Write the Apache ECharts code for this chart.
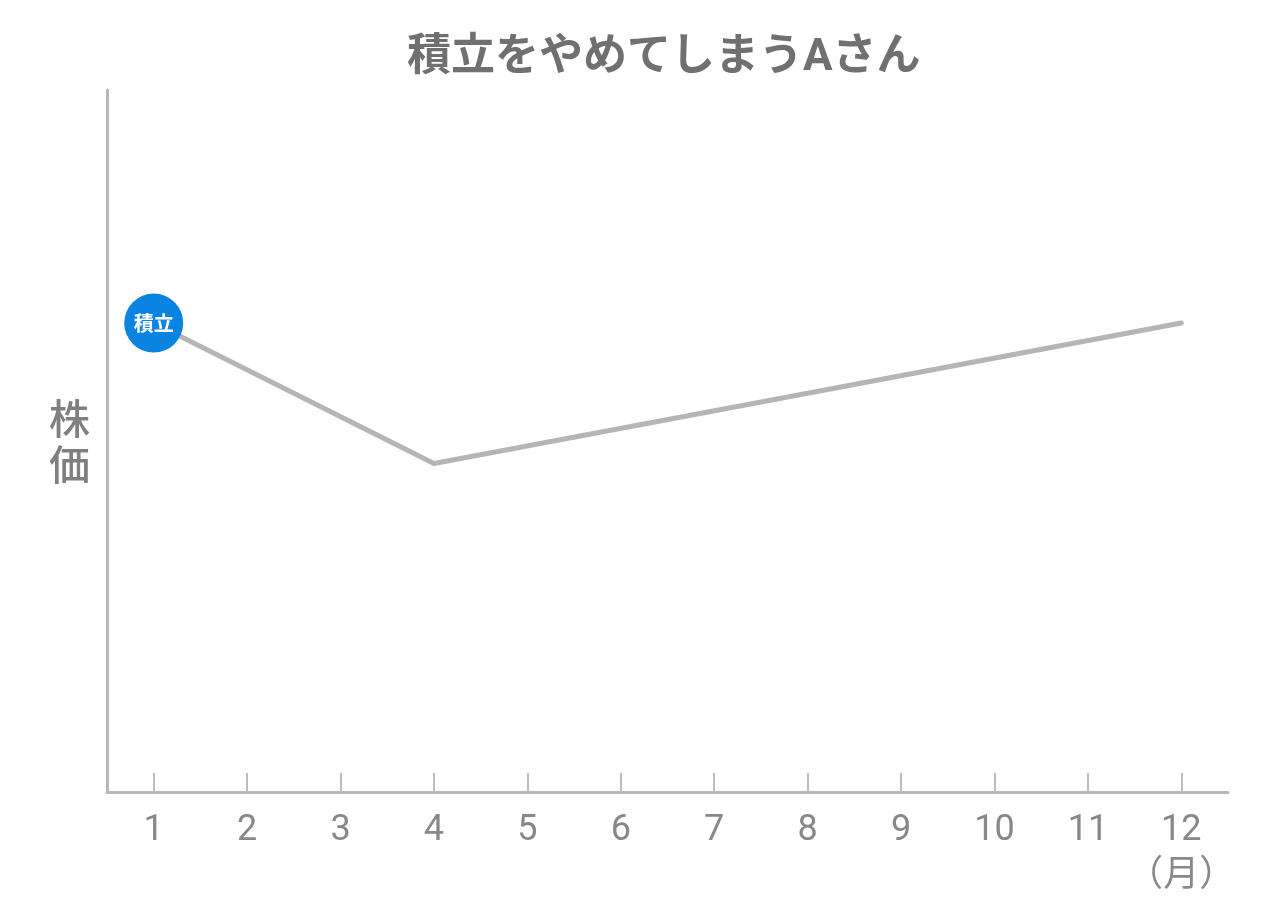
<!DOCTYPE html>
<html lang="ja">
<head>
    <meta charset="UTF-8">
    <title>積立をやめてしまうAさん</title>
    <style>
        html, body { margin: 0; padding: 0; background: #fff; }
        #main { width: 1280px; height: 912px; }
    </style>
</head>
<body>
<script src="https://cdn.jsdelivr.net/npm/echarts@6/dist/echarts.min.js"></script>
<div id="main"></div>
<script type="text/javascript">

// months on the x axis
var months = ['1', '2', '3', '4', '5', '6', '7', '8', '9', '10', '11', '12'];
// stock price (no scale shown), only the turning points are known
var price = [66.8, null, null, 46.8, null, null, null, null, null, null, null, 66.8];
var markerText = '積立';

var myChart = echarts.init(document.getElementById('main'));

var seriesData = price.map(function (v, i) {
    if (i === 0) {
        return {
            value: v,
            symbol: 'circle',
            symbolSize: 59,
            itemStyle: { color: '#0a84e2' },
            label: {
                show: true,
                position: 'inside',
                formatter: markerText,
                color: '#fff',
                fontSize: 20,
                fontWeight: 'bold',
                fontFamily: '"Noto Sans CJK JP"'
            }
        };
    }
    return v;
});

myChart.setOption({
    animation: false,
    title: {
        text: '積立をやめてしまうAさん',
        left: 402,
        top: 32,
        textStyle: {
            color: '#707070',
            fontSize: 44,
            fontWeight: 'bold',
            fontFamily: 'Roboto, "Noto Sans CJK JP"'
        }
    },
    grid: { left: 107, right: 52, top: 90, bottom: 120 },
    xAxis: {
        type: 'category',
        data: months,
        boundaryGap: true,
        axisLine: { show: true, lineStyle: { color: '#b8b8b8', width: 3 } },
        axisTick: {
            show: true,
            interval: 0,
            alignWithLabel: true,
            inside: true,
            length: 19,
            lineStyle: { color: '#bdbdbd', width: 2 }
        },
        axisLabel: {
            interval: 0,
            margin: 16,
            fontSize: 36,
            lineHeight: 46,
            color: '#888',
            fontFamily: 'Roboto, "Noto Sans CJK JP"',
            formatter: function (v) {
                return v === '12' ? '12\n（月）' : v;
            }
        }
    },
    yAxis: {
        type: 'value',
        min: 0,
        max: 100,
        name: '株\n価',
        nameLocation: 'middle',
        nameRotate: 0,
        nameGap: 17,
        nameTextStyle: {
            color: '#808080',
            fontSize: 41,
            fontWeight: 500,
            lineHeight: 46,
            fontFamily: '"Noto Sans CJK JP"'
        },
        axisLine: { show: true, lineStyle: { color: '#b8b8b8', width: 3 } },
        axisTick: { show: false },
        axisLabel: { show: false },
        splitLine: { show: false }
    },
    series: [
        {
            type: 'line',
            data: seriesData,
            connectNulls: true,
            symbol: 'none',
            lineStyle: { color: '#b5b5b5', width: 5, cap: 'round', join: 'round' }
        }
    ]
});

</script>
</body>
</html>
